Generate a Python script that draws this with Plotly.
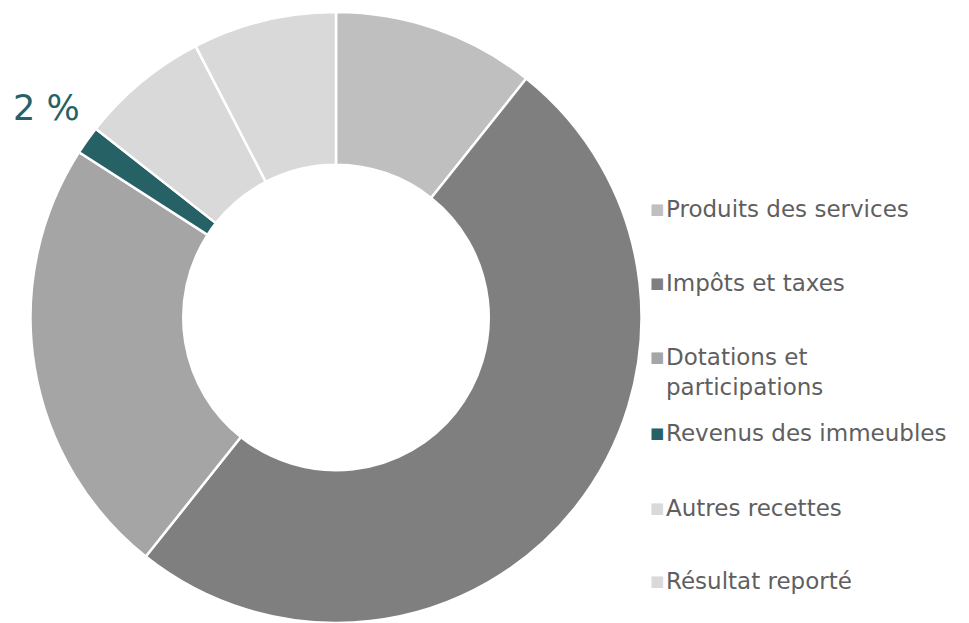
import plotly.graph_objects as go

categories = ["Produits des services", "Impôts et taxes", "Dotations et<br>participations",
              "Revenus des immeubles", "Autres recettes", "Résultat reporté"]
values = [10.7, 50.0, 23.4, 1.5, 6.8, 7.6]
colors = ["#bfbfbf", "#7f7f7f", "#a5a5a5", "#266166", "#d9d9d9", "#d9d9d9"]
label_index = 3  # slice whose percentage is shown

W, H, TOP = 969, 623, 12
PH = H - TOP

fig = go.Figure(go.Pie(
    labels=categories,
    values=values,
    hole=0.5,
    sort=False,
    direction="clockwise",
    rotation=0,
    marker=dict(colors=colors, line=dict(color="white", width=2.5)),
    textinfo="none",
    showlegend=False,
    hoverinfo="label+percent",
    domain=dict(x=[30 / W, 642 / W], y=[0, 1]),
))

def py(y):
    return 1 - (y - TOP) / PH

# percentage label
pct = int(values[label_index] / sum(values) * 100 + 0.5)
fig.add_annotation(x=11 / W, y=py(108), xref="paper", yref="paper",
                   xanchor="left", yanchor="middle", showarrow=False,
                   text=f"{pct} %", font=dict(family="DejaVu Sans", size=35, color="#266166"))

# legend drawn as annotations
legend_y = [209, 283, 372, 433, 508, 581]
for cat, col, yy in zip(categories, colors, legend_y):
    sq_y = py(357) if "<br>" in cat else py(yy)
    fig.add_annotation(x=648 / W, y=sq_y, xref="paper", yref="paper",
                       xanchor="left", yanchor="middle", showarrow=False, text="■",
                       font=dict(family="DejaVu Sans", size=15, color=col))
    fig.add_annotation(x=664 / W, y=py(yy), xref="paper", yref="paper",
                       xanchor="left", yanchor="middle", align="left", showarrow=False,
                       text=cat, font=dict(family="DejaVu Sans", size=23, color="#5f5f5f"))

fig.update_layout(width=W, height=H, margin=dict(l=0, r=0, t=TOP, b=0),
                  paper_bgcolor="white", plot_bgcolor="white")
fig.write_html("out.html", config={"displayModeBar": False},
               post_script="document.body.style.margin='0';document.body.style.overflow='hidden';")
